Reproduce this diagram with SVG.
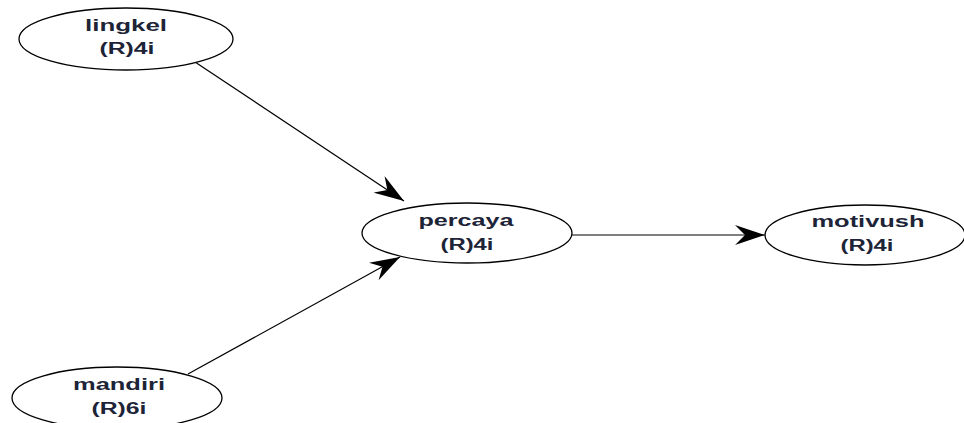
<svg xmlns="http://www.w3.org/2000/svg" width="964" height="423" viewBox="0 0 964 423">
<defs>
<style>
.node ellipse{fill:#fff;stroke:#000;stroke-width:1.3}
.node text{font-family:"Liberation Sans",Arial,sans-serif;font-weight:bold;font-size:16px;fill:#1e2438;text-anchor:middle}
.edge{stroke:#000;stroke-width:1.2;fill:none;marker-end:url(#arr)}
</style>
<marker id="arr" viewBox="0 0 30 20" refX="30" refY="10" markerWidth="30" markerHeight="20" markerUnits="userSpaceOnUse" orient="auto">
<path d="M0,0 L30,10 L0,20 L10,10 Z" fill="#000"/>
</marker>
</defs>
<rect width="964" height="423" fill="#fff"/>
<g id="connectors">
<line class="edge" x1="195" y1="62" x2="404" y2="201"/>
<line class="edge" x1="188" y1="374" x2="400" y2="257"/>
<line class="edge" x1="572" y1="235" x2="765" y2="235"/>
</g>
<g id="lingkel" class="node">
<ellipse cx="126" cy="39" rx="107" ry="31"/>
<text x="126" y="31" textLength="82" lengthAdjust="spacingAndGlyphs">lingkel</text>
<text x="127" y="54" textLength="55" lengthAdjust="spacingAndGlyphs">(R)4i</text>
</g>
<g id="percaya" class="node">
<ellipse cx="467" cy="233" rx="105" ry="30"/>
<text x="466" y="226" textLength="95" lengthAdjust="spacingAndGlyphs">percaya</text>
<text x="467" y="250" textLength="53" lengthAdjust="spacingAndGlyphs">(R)4i</text>
</g>
<g id="motivush" class="node">
<ellipse cx="865" cy="235" rx="100" ry="30"/>
<text x="868" y="227" textLength="113" lengthAdjust="spacingAndGlyphs">motivush</text>
<text x="867" y="251" textLength="53" lengthAdjust="spacingAndGlyphs">(R)4i</text>
</g>
<g id="mandiri" class="node">
<ellipse cx="117" cy="398" rx="105" ry="31"/>
<text x="119" y="390" textLength="92" lengthAdjust="spacingAndGlyphs">mandiri</text>
<text x="119" y="414" textLength="55" lengthAdjust="spacingAndGlyphs">(R)6i</text>
</g>
</svg>
